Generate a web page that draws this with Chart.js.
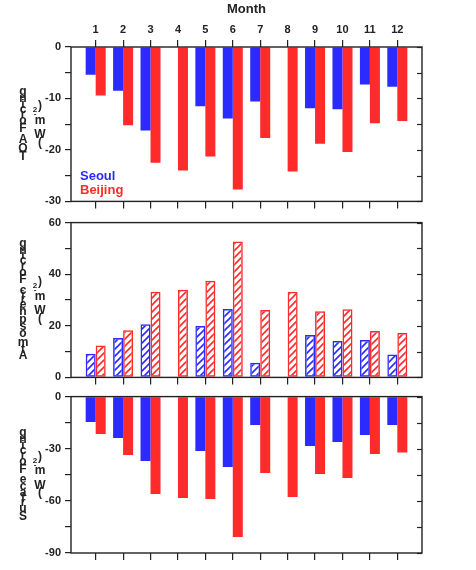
<!DOCTYPE html>
<html><head><meta charset="utf-8">
<script src="https://cdn.jsdelivr.net/npm/chart.js@4/dist/chart.umd.min.js"></script>
<style>
body{margin:0;background:#fff;width:476px;height:570px;position:relative;overflow:hidden}
canvas{position:absolute;left:0}
</style>
</head><body>
<canvas id="c1" width="476" height="212" style="top:0px"></canvas>
<canvas id="c2" width="476" height="176" style="top:212px"></canvas>
<canvas id="c3" width="476" height="184" style="top:386px"></canvas>
<script>
const months = [1,2,3,4,5,6,7,8,9,10,11,12];
const monthLabels = ['1','2','3','4','5','6','7','8','9','10','11','12'];
const seriesNames = ['Seoul','Beijing'];

const seoulTOA   = [-5.4,-8.5,-16.2,0,-11.5,-13.9,-10.6,0,-11.9,-12.1,-7.3,-7.7];
const beijingTOA = [-9.4,-15.2,-22.5,-24.0,-21.3,-27.7,-17.7,-24.2,-18.8,-20.4,-14.8,-14.4];
const seoulATM   = [9.2,15.3,20.6,0,19.9,26.5,5.7,0,16.4,14.1,14.5,8.9];
const beijingATM = [12.4,18.3,33.2,34.0,37.5,52.7,26.1,33.2,25.6,26.4,18.0,17.2];
const seoulSFC   = [-14.6,-23.8,-37.0,0,-31.3,-40.5,-16.3,0,-28.4,-26.1,-22.1,-16.3];
const beijingSFC = [-21.5,-33.6,-56.0,-58.3,-58.9,-80.8,-44.0,-57.8,-44.5,-46.8,-33.0,-32.1];

const yLabelsTOA = [0,-10,-20,-30];
const yLabelsATM = [0,20,40,60];
const yLabelsSFC = [0,-30,-60,-90];

const titleTOA = 'TOA Forcing';
const titleATM = 'Atmospheric Forcing';
const titleSFC = 'Surface Forcing';
const unitParts = ['(', 'W', ' ', 'm', '-2', ')'];

const BLUE = '#2b2bff';
const RED = '#ff2a2a';
const INK = '#222222';
const FONT = '"Liberation Sans", Arial, sans-serif';

function hatch(color){
  const c = document.createElement('canvas');
  c.width = c.height = 7;
  const g = c.getContext('2d');
  g.strokeStyle = color; g.lineWidth = 1.6;
  g.beginPath();
  g.moveTo(0,7); g.lineTo(7,0);
  g.moveTo(-1,1); g.lineTo(1,-1);
  g.moveTo(6,8); g.lineTo(8,6);
  g.stroke();
  return g.createPattern(c,'repeat');
}

function drawStacked(ctx, parts, x, cy){
  const widths = parts.map(p => { ctx.font = p.font; return ctx.measureText(p.t).width; });
  const total = widths.reduce((a,b)=>a+b,0);
  let y = cy + total/2;
  ctx.textAlign = 'center'; ctx.textBaseline = 'middle';
  parts.forEach((p,i) => {
    ctx.font = p.font;
    const w = widths[i];
    if (p.t.length > 1) {
      let yy = y;
      for (const ch of p.t) {
        const cw = ctx.measureText(ch).width;
        ctx.fillText(ch, x + (p.dx||0), yy - cw/2);
        yy -= cw;
      }
    } else {
      ctx.fillText(p.t, x + (p.dx||0), y - w/2);
    }
    y -= w;
  });
}

const decor = {
  id: 'decor',
  afterDatasetsDraw(chart, args, o){
    const ctx = chart.ctx, a = chart.chartArea, ys = chart.scales.y;
    ctx.save();
    ctx.strokeStyle = INK; ctx.lineWidth = 1.2;
    ys.ticks.forEach(t => {
      const py = Math.round(ys.getPixelForValue(t.value)) + 0.5;
      ctx.beginPath(); ctx.moveTo(a.right - 5, py); ctx.lineTo(a.right, py); ctx.stroke();
    });
    ctx.lineWidth = 1.4;
    ctx.strokeRect(a.left, a.top, a.right - a.left, a.bottom - a.top);
    ctx.fillStyle = INK;
    const cy = (a.top + a.bottom)/2;
    drawStacked(ctx, [...o.title].map(ch => ({t: ch, font: 'bold 12px ' + FONT})), 23, cy);
    drawStacked(ctx, unitParts.map(p => p === '-2'
      ? {t: p, font: 'bold 8px ' + FONT, dx: -5}
      : {t: p, font: 'bold 12px ' + FONT}), 40, cy);
    if (o.legend) {
      ctx.textAlign = 'left'; ctx.textBaseline = 'middle';
      ctx.font = 'bold 13px ' + FONT;
      ctx.fillStyle = BLUE; ctx.fillText(seriesNames[0], a.left + 9, a.top + 129);
      ctx.fillStyle = RED; ctx.fillText(seriesNames[1], a.left + 9, a.top + 143);
    }
    ctx.restore();
  }
};

function monthTicks(s){ s.ticks = months.map(v => ({value: v})); }

function makeChart(id, seoul, beijing, cfg){
  const ctx = document.getElementById(id).getContext('2d');
  const mk = (label, vals, color) => ({
    label,
    data: months.map((m,i) => ({x: m, y: vals[i]})),
    backgroundColor: cfg.hatched ? hatch(color) : color,
    borderColor: color,
    borderWidth: cfg.hatched ? 1.5 : 0,
    borderSkipped: false,
    categoryPercentage: 0.73,
    barPercentage: 1.0
  });
  const scales = {
    x: {
      type: 'linear', position: 'bottom', min: 0.1, max: 12.9, offset: false,
      afterBuildTicks: monthTicks,
      ticks: {display: false, autoSkip: false},
      grid: {offset: false, drawOnChartArea: false, drawTicks: true, tickLength: 7, color: INK, lineWidth: 1.2},
      border: {display: false},
      afterFit: s => { s.height = 9; }
    },
    y: {
      min: cfg.yMin, max: cfg.yMax,
      afterBuildTicks: s => {
        const t = [];
        for (let v = cfg.yMin; v <= cfg.yMax + 1e-9; v += cfg.step) t.push({value: v});
        s.ticks = t;
      },
      ticks: {
        autoSkip: false, color: INK, padding: 4,
        font: {family: FONT, size: 11, weight: 'bold'},
        callback: v => cfg.labels.includes(v) ? String(v) : ''
      },
      grid: {drawOnChartArea: false, tickLength: 6, color: INK, lineWidth: 1.2},
      border: {display: false},
      afterFit: s => { s.width = 71; }
    }
  };
  if (cfg.top) {
    scales.xTop = {
      type: 'linear', position: 'top', min: 0.1, max: 12.9, offset: false,
      afterBuildTicks: monthTicks,
      ticks: {autoSkip: false, maxRotation: 0, color: INK, padding: 3,
        font: {family: FONT, size: 11, weight: 'bold'},
        callback: (v, i) => monthLabels[i]},
      title: {display: true, text: 'Month', color: INK, padding: {top: 2, bottom: 0},
        font: {family: FONT, size: 13, weight: 'bold'}},
      grid: {offset: false, drawOnChartArea: false, drawTicks: true, tickLength: 7, color: INK, lineWidth: 1.2},
      border: {display: false},
      afterFit: s => { s.height = 47; }
    };
  }
  return new Chart(ctx, {
    type: 'bar',
    data: {datasets: [mk(seriesNames[0], seoul, BLUE), mk(seriesNames[1], beijing, RED)]},
    options: {
      responsive: false, animation: false, devicePixelRatio: 1,
      layout: {padding: cfg.padding},
      plugins: {legend: {display: false}, tooltip: {enabled: false},
        decor: {title: cfg.title, legend: !!cfg.legend}},
      scales
    },
    plugins: [decor]
  });
}

makeChart('c1', seoulTOA, beijingTOA, {yMin: -30, yMax: 0, step: 5, labels: yLabelsTOA,
  top: true, legend: true, title: titleTOA, padding: {left: 0, right: 54, top: 0, bottom: 0}});
makeChart('c2', seoulATM, beijingATM, {yMin: 0, yMax: 60, step: 10, labels: yLabelsATM,
  hatched: true, title: titleATM, padding: {left: 0, right: 54, top: 10, bottom: 0}});
makeChart('c3', seoulSFC, beijingSFC, {yMin: -90, yMax: 0, step: 15, labels: yLabelsSFC,
  title: titleSFC, padding: {left: 0, right: 54, top: 10, bottom: 8}});
</script>
</body></html>
